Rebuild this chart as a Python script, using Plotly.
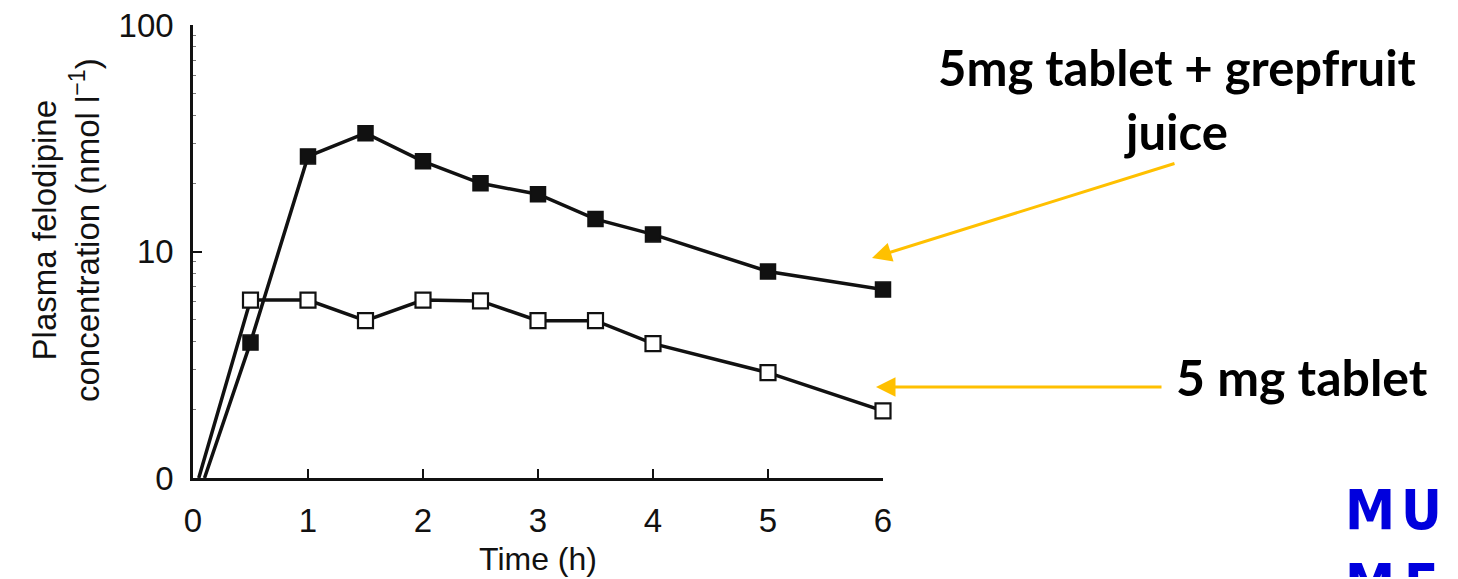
import plotly.graph_objects as go

# ---- data ----
times = [0.5, 1, 1.5, 2, 2.5, 3, 3.5, 4, 5, 6]
tablet = [6.1, 6.1, 4.95, 6.1, 6.05, 4.95, 4.95, 3.92, 2.92, 1.98]
tablet_gfj = [3.96, 26.3, 33.3, 25.0, 20.0, 17.9, 13.9, 11.9, 8.16, 6.79]
# curves start on the baseline (plotted as "0", i.e. value 1 on the log axis)
start_tablet = 0.05
start_gfj = 0.1
baseline = 1

y_tickvals = [1, 10, 100]
y_ticktext = ["0", "10", "100"]
x_tickvals = [0, 1, 2, 3, 4, 5, 6]
minor_vals = [2, 3, 4, 5, 6, 7, 8, 9, 20, 30, 40, 50, 60, 70, 80, 90]

label_gfj = "5mg tablet + grepfruit<br>juice"
label_tab = "5 mg tablet"
logo_row1 = ["M", "U"]
logo_row2 = ["M", "E"]

ARROW = "#FFC000"
INK = "#111111"
LOGO = "#0000DD"

fig = go.Figure()

# lines (including the origin on the baseline)
fig.add_trace(go.Scatter(x=[start_gfj] + times, y=[baseline] + tablet_gfj, mode="lines",
                         line=dict(color=INK, width=3.5), showlegend=False, hoverinfo="skip",
                         cliponaxis=False))
fig.add_trace(go.Scatter(x=[start_tablet] + times, y=[baseline] + tablet, mode="lines",
                         line=dict(color=INK, width=3.5), showlegend=False, hoverinfo="skip",
                         cliponaxis=False))
# markers
fig.add_trace(go.Scatter(x=times, y=tablet_gfj, mode="markers", name="5mg tablet + grapefruit juice",
                         marker=dict(symbol="square", size=15, color=INK,
                                     line=dict(color=INK, width=1.5)), showlegend=False,
                         cliponaxis=False))
fig.add_trace(go.Scatter(x=times, y=tablet, mode="markers", name="5 mg tablet",
                         marker=dict(symbol="square", size=15, color="white",
                                     line=dict(color=INK, width=2.2)), showlegend=False,
                         cliponaxis=False))

# reference-frame pixel geometry (page body margin compensated by OX/OY)
OX, OY = 8, 10
W, H = 1458, 579
L, R, T, B = 193, 575, 27, 99
pw, ph = W - L - R, H - T - B

def px(x):
    return (x - L) / pw

def py(y):
    return (H - B - y) / ph

axis_font = dict(family="Liberation Sans, Arial, sans-serif", size=33, color=INK)

fig.update_layout(
    width=W - OX, height=H - OY,
    margin=dict(l=L - OX, r=R, t=T - OY, b=B, autoexpand=False),
    paper_bgcolor="white", plot_bgcolor="white",
    showlegend=False,
    xaxis=dict(range=[0, 6], tickvals=x_tickvals, ticks="inside", ticklen=9, tickwidth=2,
               tickcolor=INK, showline=True, linecolor=INK, linewidth=2.5, showgrid=False,
               zeroline=False, tickfont=axis_font, ticklabelstandoff=12,
               ticklabeloverflow="allow",
               title=dict(text="Time (h)", font=dict(family="Liberation Sans, Arial, sans-serif",
                                                     size=32, color=INK), standoff=12)),
    yaxis=dict(type="log", range=[0, 2], tickvals=y_tickvals, ticktext=y_ticktext,
               ticks="inside", ticklen=9, tickwidth=2, tickcolor=INK, showline=True,
               linecolor=INK, linewidth=2.5, showgrid=False, zeroline=False,
               tickfont=axis_font, ticklabelstandoff=10, ticklabeloverflow="allow",
               minor=dict(tickvals=minor_vals, ticks="inside", ticklen=3, tickwidth=1,
                          tickcolor="#777777", showgrid=False)),
)

annotations = [
    # y axis title
    dict(text="Plasma felodipine<br>concentration (nmol l<sup>\u22121</sup>)",
         xref="paper", yref="paper", x=px(66), y=py(232), xanchor="center", yanchor="middle",
         textangle=-90, showarrow=False,
         font=dict(family="Liberation Sans, Arial, sans-serif", size=33, color=INK)),
    # labels
    dict(text="<b>" + label_gfj + "</b>", xref="paper", yref="paper", x=px(1177), y=py(101),
         xanchor="center", yanchor="middle", align="center", showarrow=False,
         font=dict(family="Lato, Open Sans, sans-serif", size=49, color="black")),
    dict(text="<b>" + label_tab + "</b>", xref="paper", yref="paper", x=px(1302), y=py(379),
         xanchor="center", yanchor="middle", showarrow=False,
         font=dict(family="Lato, Open Sans, sans-serif", size=50, color="black")),
    # arrows
    dict(text="", xref="paper", yref="paper", x=px(872), y=py(260), ax=1176 - 872, ay=165 - 260,
         showarrow=True, arrowhead=2, arrowsize=1.3, arrowwidth=3, arrowcolor=ARROW, standoff=0),
    dict(text="", xref="paper", yref="paper", x=px(876), y=py(389), ax=1163 - 876, ay=0,
         showarrow=True, arrowhead=2, arrowsize=1.3, arrowwidth=3, arrowcolor=ARROW, standoff=0),
]
# logo letters
logo_x = [1370, 1421]
for row, yc in ((logo_row1, 512), (logo_row2, 585)):
    for ch, xc in zip(row, logo_x):
        annotations.append(dict(text="<b>" + ch + "</b>", xref="paper", yref="paper",
                                x=px(xc), y=py(yc), xanchor="center", yanchor="middle",
                                showarrow=False,
                                font=dict(family="Liberation Sans Narrow, DejaVu Sans Condensed, sans-serif",
                                          size=56, color=LOGO)))
fig.update_layout(annotations=annotations)

fig.write_html("out.html")
